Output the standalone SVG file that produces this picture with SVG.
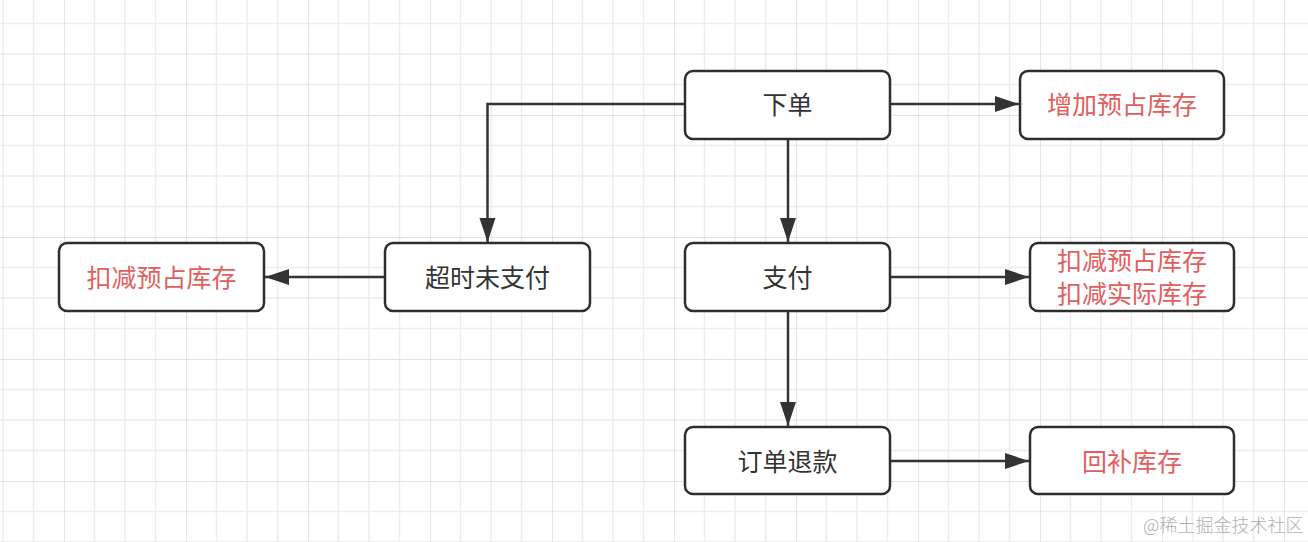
<svg xmlns="http://www.w3.org/2000/svg" width="1308" height="542" viewBox="0 0 1308 542">
  <style>
    .box { fill: #ffffff; stroke: #2e2e2e; stroke-width: 2.5; }
    .t { font-family: "Noto Sans CJK SC", "Noto Sans", sans-serif; font-size: 25px; text-anchor: middle; dominant-baseline: central; }
    .dark { fill: #333333; }
    .red { fill: #e35d5d; }
    .edge { fill: none; stroke: #333333; stroke-width: 2.5; }
    .wm { font-family: "Noto Sans CJK SC", sans-serif; font-size: 18px; fill: #b0b0b0; font-weight: 300; }
  </style>
  <defs>
    <pattern id="grid" patternUnits="userSpaceOnUse" x="64" y="115" width="122" height="122">
      <path d="M30.5 0V122M61 0V122M91.5 0V122M0 30.5H122M0 61H122M0 91.5H122" stroke="#ededed" stroke-width="1.5" fill="none"/>
      <path d="M0 0V122M0 0H122" stroke="#e2e2e2" stroke-width="1.8" fill="none"/>
    </pattern>
    <marker id="arr" markerUnits="userSpaceOnUse" markerWidth="26" markerHeight="18" refX="24" refY="8" orient="auto">
      <path d="M0 0L24 8L0 16Z" fill="#333333"/>
    </marker>
  </defs>
  <rect x="0" y="0" width="1308" height="542" fill="#ffffff"/>
  <rect x="0" y="0" width="1308" height="542" fill="url(#grid)"/>

  <g id="connectors">
    <path class="edge" d="M685 104H487.5V242" marker-end="url(#arr)"/>
    <path class="edge" d="M890 104H1019" marker-end="url(#arr)"/>
    <path class="edge" d="M385 277H265" marker-end="url(#arr)"/>
    <path class="edge" d="M788 139V242" marker-end="url(#arr)"/>
    <path class="edge" d="M890 277H1029" marker-end="url(#arr)"/>
    <path class="edge" d="M788 311V426" marker-end="url(#arr)"/>
    <path class="edge" d="M890 461H1029" marker-end="url(#arr)"/>
  </g>

  <g id="order">
    <rect class="box" x="685" y="71" width="205" height="68" rx="8"/>
    <text class="t dark" x="787.5" y="102.5">下单</text>
  </g>
  <g id="add-reserved">
    <rect class="box" x="1020" y="71" width="204" height="68" rx="8"/>
    <text class="t red" x="1122" y="102.5">增加预占库存</text>
  </g>
  <g id="timeout">
    <rect class="box" x="385" y="243" width="205" height="68" rx="8"/>
    <text class="t dark" x="487.5" y="275.5">超时未支付</text>
  </g>
  <g id="deduct-reserved-left">
    <rect class="box" x="59" y="243" width="205" height="68" rx="8"/>
    <text class="t red" x="161.5" y="275.5">扣减预占库存</text>
  </g>
  <g id="pay">
    <rect class="box" x="685" y="243" width="205" height="68" rx="8"/>
    <text class="t dark" x="787.5" y="275.5">支付</text>
  </g>
  <g id="deduct-both">
    <rect class="box" x="1030" y="243" width="204" height="68" rx="8"/>
    <text class="t red" x="1132" y="259">扣减预占库存</text>
    <text class="t red" x="1132" y="292">扣减实际库存</text>
  </g>
  <g id="refund">
    <rect class="box" x="685" y="427" width="205" height="67" rx="8"/>
    <text class="t dark" x="787.5" y="459.5">订单退款</text>
  </g>
  <g id="restore">
    <rect class="box" x="1030" y="427" width="204" height="67" rx="8"/>
    <text class="t red" x="1132" y="459.5">回补库存</text>
  </g>

  <text class="wm" x="1143" y="532">@稀土掘金技术社区</text>
</svg>
